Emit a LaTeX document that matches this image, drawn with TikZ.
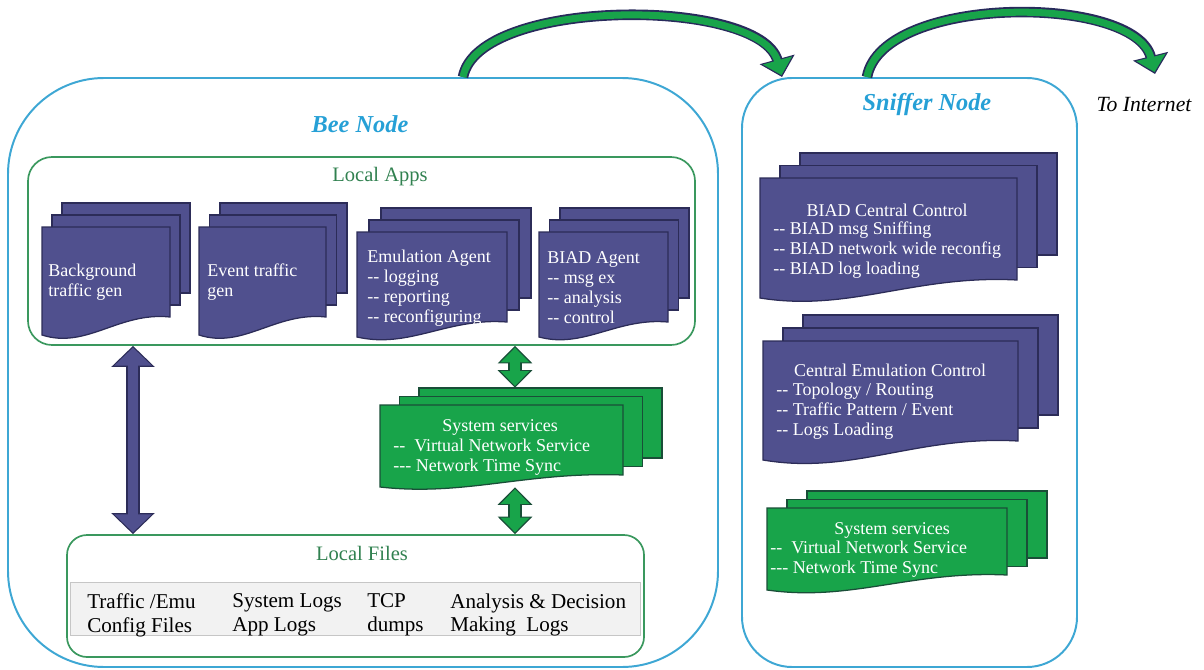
\documentclass[tikz,border=0pt]{standalone}
\usepackage{fontspec}
\setmainfont{Liberation Serif}
\usetikzlibrary{arrows.meta,fit}
\definecolor{nodeblue}{RGB}{62,167,212}
\definecolor{titleblue}{RGB}{38,160,214}
\definecolor{boxgreen}{RGB}{58,152,94}
\definecolor{docpurple}{RGB}{80,80,142}
\definecolor{docedge}{RGB}{44,44,88}
\definecolor{svcgreen}{RGB}{24,164,74}
\definecolor{svcedge}{RGB}{26,78,56}
\definecolor{curveedge}{RGB}{40,42,92}

% stack of three sheets: style, x, y, width, height, wave, dx, dy, name
\newcommand{\docstack}[9]{%
  \draw[#1] ({#2+2*#7},{#3-2*#8}) rectangle ++(#4,#5);
  \draw[#1] ({#2+#7},{#3-#8}) rectangle ++(#4,#5);
  \draw[#1] (#2,#3) -- ++(#4,0) -- ++(0,#5)
    .. controls ({#2+0.6*#4},{#3+#5-0.3*#6}) and ({#2+0.35*#4},{#3+#5+1.8*#6}) .. (#2,{#3+#5+#6}) -- cycle;
  \node[inner sep=0pt, fit={(#2,{#3-2*#8}) ({#2+#4+2*#7},{#3+#5+#6})}] (#9) {};
}

\begin{document}
\begin{tikzpicture}[
    x=0.025cm, y=-0.025cm,
    every node/.style={font=\fontsize{12.8pt}{14.2pt}\selectfont},
    nodebox/.style={draw=nodeblue, line width=1.4pt, inner sep=0pt},
    groupbox/.style={draw=boxgreen, line width=1.2pt, inner sep=0pt, rounded corners=0.6cm},
    nodetitle/.style={text=titleblue, font=\fontsize{17.3pt}{20pt}\selectfont\bfseries\itshape},
    grouptitle/.style={text=boxgreen!85!black, font=\fontsize{14.6pt}{17pt}\selectfont},
    appdoc/.style={fill=docpurple, draw=docedge, line width=0.9pt},
    svcdoc/.style={fill=svcgreen, draw=svcedge, line width=0.9pt},
    doctext/.style={text=white, align=left, inner sep=0pt},
    doctitle/.style={text=white, inner sep=0pt},
    filetext/.style={align=left, inner sep=0pt, font=\fontsize{15pt}{17pt}\selectfont},
    purpleout/.style={draw=docedge, line width=10pt,
      {Triangle[length=15pt,width=30pt]}-{Triangle[length=15pt,width=30pt]}},
    purplein/.style={draw=docpurple, line width=7.6pt, shorten <=1.3pt, shorten >=1.3pt,
      {Triangle[length=12.8pt,width=26pt]}-{Triangle[length=12.8pt,width=26pt]}},
    greenout/.style={draw=svcedge, line width=10pt,
      {Triangle[length=12.5pt,width=24pt]}-{Triangle[length=12.5pt,width=24pt]}},
    greenin/.style={draw=svcgreen, line width=7.6pt, shorten <=1.3pt, shorten >=1.3pt,
      {Triangle[length=10.5pt,width=20pt]}-{Triangle[length=10.5pt,width=20pt]}},
    curveout/.style={draw=curveedge, line width=7.5pt, -{Triangle[length=13pt,width=25pt]}},
    curvein/.style={draw=svcgreen, line width=5pt, shorten >=1.4pt, -{Triangle[length=10.8pt,width=21pt]}}
  ]
  \useasboundingbox (0,0) rectangle (1204,670);

  % the two machines
  \node[nodebox, rounded corners=2.4cm, fit={(8,78) (718,667)}] (bee) {};
  \node[nodebox, rounded corners=1.25cm, fit={(742,78) (1077,667)}] (sniffer) {};
  \node[nodetitle] (beetitle) at (360,124) {Bee Node};
  \node[nodetitle] (sniffertitle) at (927,105) {Sniffer Node};
  \node[font=\fontsize{15.4pt}{18pt}\selectfont\itshape] (inet) at (1144,105) {To Internet};

  % groups inside the bee node
  \node[groupbox, fit={(28,157) (695,345)}] (apps) {};
  \node[grouptitle] (appstitle) at (380,177) {Local Apps};
  \node[groupbox, rounded corners=0.5cm, fit={(67,535) (644,657)}] (files) {};
  \node[grouptitle] (filestitle) at (362,553) {Local Files};
  \node[draw=gray!45, fill=gray!10, line width=0.4pt, inner sep=0pt, fit={(70,582) (640,635)}] (filestrip) {};

  % local apps
  \docstack{appdoc}{42}{227}{128}{90}{18}{10}{12}{bgstack}
  \docstack{appdoc}{199}{227}{127}{90}{18}{10.5}{12}{evstack}
  \docstack{appdoc}{357}{232}{150}{90}{15}{12}{12}{emustack}
  \docstack{appdoc}{539}{232}{129}{90}{15}{10.5}{12}{agentstack}
  \node[doctext, anchor=west] (bgtext) at (48,282) {Background\\traffic gen};
  \node[doctext, anchor=west] (evtext) at (207,282) {Event traffic\\gen};
  \node[doctext, anchor=west] (emutext) at (367,288) {Emulation Agent\\-{}- logging\\-{}- reporting\\-{}- reconfiguring};
  \node[doctext, anchor=west] (agenttext) at (547,288) {BIAD Agent\\-{}- msg ex\\-{}- analysis\\-{}- control};

  % system services of the bee node
  \docstack{svcdoc}{380}{405}{243}{70}{12}{19.5}{8.5}{beesvc}
  \node[doctitle] (beesvctitle) at (500,427) {System services};
  \node[doctext, anchor=west] (beesvctext) at (393,457) {-{}-\ \ Virtual Network Service\\-{}-{}- Network Time Sync};

  % local files
  \node[filetext, anchor=west] (cfgfiles) at (87,615) {Traffic /Emu\\Config Files};
  \node[filetext, anchor=west] (logfiles) at (232,615) {System Logs\\App Logs};
  \node[filetext, anchor=west] (tcpfiles) at (367,615) {TCP\\dumps};
  \node[filetext, anchor=west] (decfiles) at (450,615) {Analysis \& Decision\\Making\ \ Logs};

  % sniffer node
  \docstack{appdoc}{760}{178}{257}{102}{18}{20}{12.5}{ccstack}
  \node[doctitle] (cctitle) at (887,210) {BIAD Central Control};
  \node[doctext, anchor=west] (cctext) at (773,250) {-{}- BIAD msg Sniffing\\-{}- BIAD network wide reconfig\\-{}- BIAD log loading};
  \docstack{appdoc}{763}{341}{255}{100}{19}{20}{13}{cecstack}
  \node[doctitle] (cectitle) at (890,370) {Central Emulation Control};
  \node[doctext, anchor=west] (cectext) at (776,411) {-{}- Topology / Routing\\-{}- Traffic Pattern / Event\\-{}- Logs Loading};
  \docstack{svcdoc}{767}{508}{240}{67}{15}{20}{8.5}{sniffsvc}
  \node[doctitle] (sniffsvctitle) at (892,530) {System services};
  \node[doctext, anchor=west] (sniffsvctext) at (770,559) {-{}-\ \ Virtual Network Service\\-{}-{}- Network Time Sync};

  % links
  \coordinate (leftlink) at (133,0);
  \coordinate (rightlink) at (515,0);
  \draw[purpleout] (apps.south -| leftlink) -- (files.north -| leftlink);
  \draw[purplein] (apps.south -| leftlink) -- (files.north -| leftlink);
  \draw[greenout] (apps.south -| rightlink) -- (beesvc.north -| rightlink);
  \draw[greenin] (apps.south -| rightlink) -- (beesvc.north -| rightlink);
  \draw[greenout] (beesvc.south -| rightlink) -- (files.north -| rightlink);
  \draw[greenin] (beesvc.south -| rightlink) -- (files.north -| rightlink);

  \coordinate (tailA) at (463,0);
  \coordinate (headA) at (782,0);
  \coordinate (tailB) at (867,0);
  \coordinate (nethead) at (1155,74);
  \draw[curveout] (bee.north -| tailA) .. controls (478,-3) and (760,-3) .. (sniffer.north -| headA);
  \draw[curvein] (bee.north -| tailA) .. controls (478,-3) and (760,-3) .. (sniffer.north -| headA);
  \draw[curveout] (sniffer.north -| tailB) .. controls (882,-6) and (1135,-6) .. (nethead);
  \draw[curvein] (sniffer.north -| tailB) .. controls (882,-6) and (1135,-6) .. (nethead);
\end{tikzpicture}
\end{document}
